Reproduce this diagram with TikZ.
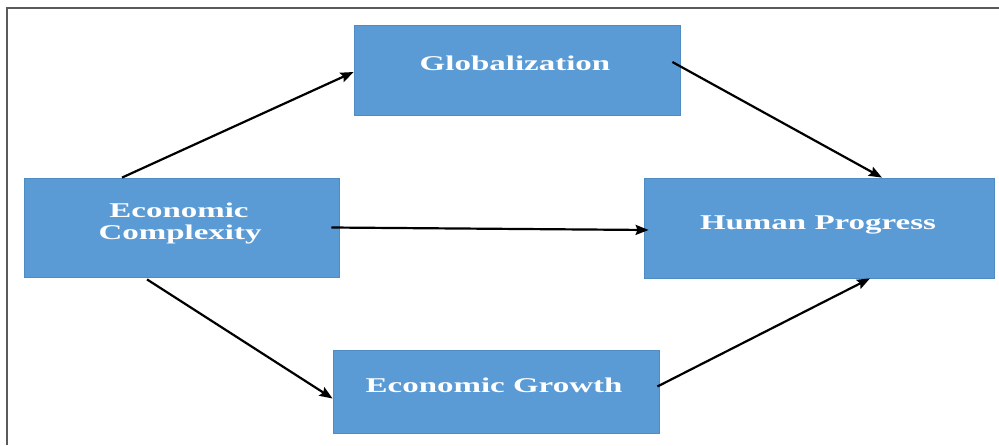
\documentclass[tikz,border=0pt]{standalone}
\usepackage{fontspec}
\setmainfont{Liberation Serif}
\usetikzlibrary{arrows.meta}
\definecolor{boxfill}{HTML}{5B9BD5}
\definecolor{boxedge}{HTML}{4F8CC4}
\definecolor{frame}{HTML}{5A5A5A}
\newcommand{\widetext}[1]{\scalebox{1.57}[1]{#1}}
\begin{document}
\begin{tikzpicture}[x=1pt,y=-1pt,
  block/.style={draw=boxedge,line width=0.8pt,fill=boxfill,rectangle,inner sep=0pt},
  label/.style={text=white,font=\fontsize{21}{22}\selectfont\bfseries,align=center,anchor=base,inner sep=0pt},
  link/.style={draw=black,line width=2.2pt,-{Stealth[length=13pt,width=10pt,inset=2pt]}}]
  \useasboundingbox (0,0) rectangle (999,445);
  % frame
  \draw[frame,line width=2pt] (7,445) -- (7,7.5) -- (999,7.5);
  % boxes
  \node[block,minimum width=326pt,minimum height=90pt] (glob) at (517,70) {};
  \node[block,minimum width=315pt,minimum height=99pt] (ec) at (181.5,227.5) {};
  \node[block,minimum width=350pt,minimum height=100pt] (hp) at (819,228) {};
  \node[block,minimum width=326pt,minimum height=83pt] (eg) at (496,391.5) {};
  % labels
  \node[label] (globt) at (515,70) {\widetext{Globalization}};
  \node[label] (ect1) at (179,217) {\widetext{Economic}};
  \node[label] (ect2) at (180,239) {\widetext{Complexity}};
  \node[label] (hpt) at (818,229) {\widetext{Human Progress}};
  \node[label] (egt) at (494,392) {\widetext{Economic Growth}};
  % connectors
  \draw[link] ([xshift=-59.5pt]ec.north) -- ([yshift=-2pt]glob.west);
  \draw[link] ([xshift=-8pt,yshift=8pt]glob.east) -- ([xshift=63pt]hp.north);
  \draw[link] ([xshift=-8pt]ec.east) -- ([xshift=5pt,yshift=-2pt]hp.west);
  \draw[link] ([xshift=-34.5pt,yshift=-2pt]ec.south) -- ([yshift=-7pt]eg.west);
  \draw[link] ([xshift=-2pt,yshift=5pt]eg.east) -- ([xshift=51pt]hp.south);
\end{tikzpicture}
\end{document}
